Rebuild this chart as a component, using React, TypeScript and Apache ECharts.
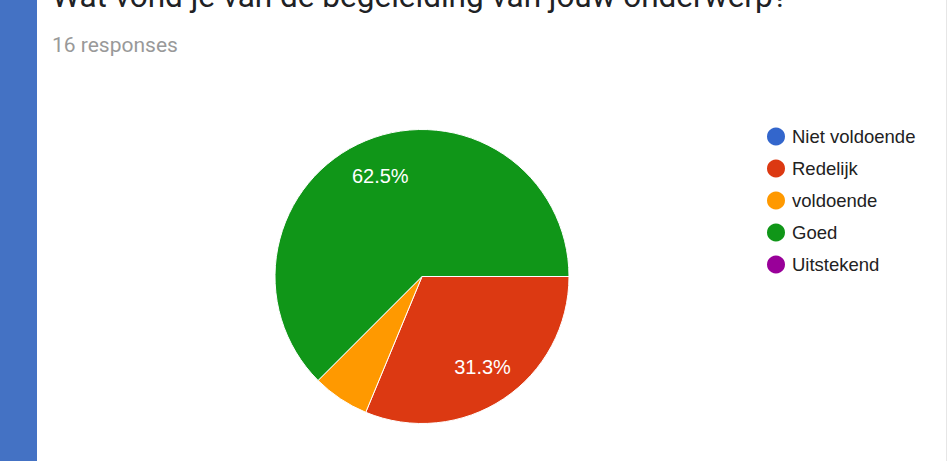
import React, { useEffect, useRef } from "react";
import * as echarts from "echarts";

const titleText = "Wat vond je van de begeleiding van jouw onderwerp?";
const subtitleText = "16 responses";
const categories = ["Niet voldoende", "Redelijk", "voldoende", "Goed", "Uitstekend"];
const counts = [0, 5, 1, 10, 0];
const colors = ["#3366cc", "#dc3912", "#ff9900", "#109618", "#990099"];

export default function App() {
  const ref = useRef<HTMLDivElement>(null);
  useEffect(() => {
    document.body.style.margin = "0";
    if (!ref.current) return;
    const chart = echarts.init(ref.current, undefined, { renderer: "svg" });
    const total = counts.reduce((a, b) => a + b, 0);
    const data = categories.map((name, i) => ({
      name,
      value: counts[i],
      itemStyle: { color: colors[i] },
    }));
    chart.setOption({
      animation: false,
      backgroundColor: "#ffffff",
      graphic: [
        { type: "rect", shape: { x: 0, y: 0, width: 37, height: 461 }, style: { fill: "#4472c4" } },
        { type: "rect", shape: { x: 946, y: 0, width: 1, height: 461 }, style: { fill: "#e6e6e6" } },
        {
          type: "text",
          x: 52,
          y: -4,
          style: {
            text: titleText,
            font: "400 31.5px Roboto",
            fill: "#202124",
            verticalAlign: "middle",
          },
        },
        {
          type: "text",
          x: 52,
          y: 44.5,
          style: {
            text: subtitleText,
            font: "400 21px Roboto",
            fill: "#999999",
            verticalAlign: "middle",
          },
        },
      ],
      legend: {
        orient: "vertical",
        left: 765,
        top: 125.5,
        padding: 0,
        icon: "circle",
        itemWidth: 22,
        itemHeight: 20,
        itemGap: 10,
        selectedMode: false,
        data: categories.map((name, i) => ({ name, itemStyle: { color: colors[i] } })),
        textStyle: {
          fontFamily: "Liberation Sans, Arial",
          fontSize: 18.5,
          color: "#222222",
        },
      },
      series: [
        {
          type: "pie",
          center: [422, 276.5],
          radius: [0, 147],
          startAngle: 0,
          clockwise: true,
          silent: true,
          label: { show: false },
          labelLine: { show: false },
          itemStyle: { borderColor: "#ffffff", borderWidth: 1 },
          data,
        },
        {
          type: "pie",
          center: [422, 276.5],
          radius: [65, 147],
          startAngle: 0,
          clockwise: true,
          silent: true,
          legendHoverLink: false,
          itemStyle: { color: "rgba(0,0,0,0)" },
          labelLine: { show: false },
          label: {
            show: true,
            position: "inside",
            color: "#ffffff",
            fontFamily: "Liberation Sans, Arial",
            fontSize: 20,
            formatter: (p: any) => {
              const pct = (p.value / total) * 100;
              return pct >= 10 ? pct.toFixed(1) + "%" : "";
            },
          },
          data: categories.map((name, i) => ({ name: name + " ", value: counts[i] })),
        },
      ],
    });
    return () => chart.dispose();
  }, []);
  return <div ref={ref} style={{ width: 949, height: 461 }} />;
}
